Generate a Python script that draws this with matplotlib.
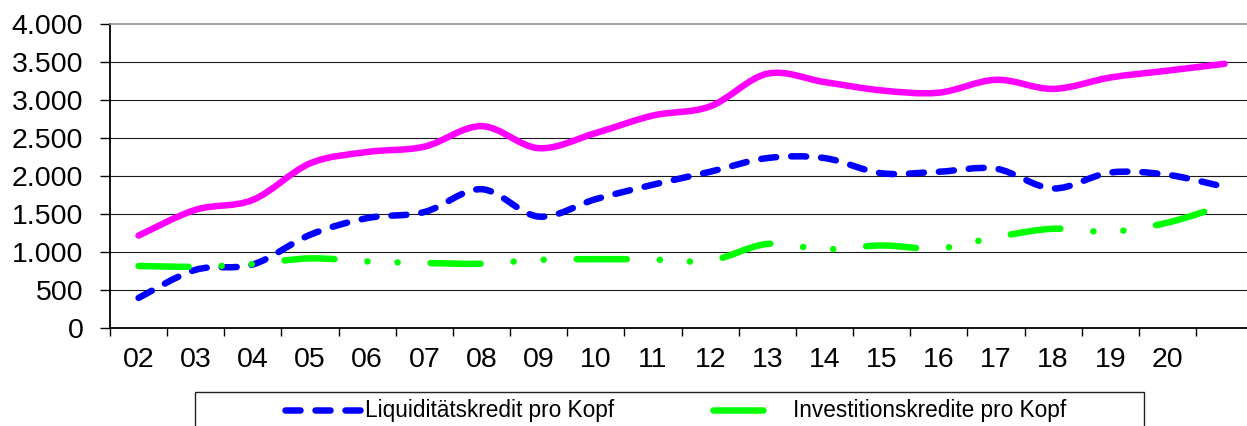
import numpy as np
import matplotlib
matplotlib.use('Agg')
import matplotlib.pyplot as plt
from matplotlib.path import Path
from matplotlib.patches import PathPatch, Rectangle
from matplotlib.lines import Line2D

plt.rcParams['font.family'] = ['Liberation Sans', 'DejaVu Sans']
plt.rcParams['lines.scale_dashes'] = False

years = ['02', '03', '04', '05', '06', '07', '08', '09', '10', '11',
         '12', '13', '14', '15', '16', '17', '18', '19', '20', '']

liquiditaet = [400, 770, 840, 1230, 1450, 1530, 1830, 1470, 1700, 1890,
               2060, 2240, 2240, 2040, 2060, 2100, 1840, 2050, 2020, 1860]
investition = [820, 810, 845, 920, 880, 860, 850, 900, 910, 905,
               890, 1110, 1040, 1090, 1050, 1200, 1310, 1270, 1390, 1620]
gesamt = [1220, 1560, 1690, 2170, 2320, 2390, 2660, 2370, 2570, 2800,
          2920, 3350, 3240, 3130, 3100, 3270, 3150, 3300, 3390, 3480]

y_ticks = [0, 500, 1000, 1500, 2000, 2500, 3000, 3500, 4000]
y_labels = ['0', '500', '1.000', '1.500', '2.000', '2.500', '3.000', '3.500', '4.000']

W, H = 1247, 426
PX = 72 / 100  # pt per pixel at dpi 100


def smooth_path(xs, ys):
    # Catmull-Rom style bezier, like the "smoothed line" option in Excel
    pts = np.column_stack([xs, ys]).astype(float)
    ext = np.vstack([pts[0], pts, pts[-1]])
    verts = [pts[0]]
    codes = [Path.MOVETO]
    for i in range(len(pts) - 1):
        p0, p1, p2, p3 = ext[i], ext[i + 1], ext[i + 2], ext[i + 3]
        verts += [p1 + (p2 - p0) / 6, p2 - (p3 - p1) / 6, p2]
        codes += [Path.CURVE4] * 3
    return Path(verts, codes)


def add_series(ax, values, color, dashes):
    x = np.arange(len(values))
    ls = 'solid' if dashes is None else (0, dashes)
    patch = PathPatch(smooth_path(x, values), fill=False, edgecolor=color,
                      lw=6.5 * PX, linestyle=ls, capstyle='round',
                      joinstyle='round', zorder=3)
    ax.add_patch(patch)
    return Line2D([], [], color=color, lw=6.5 * PX,
                  linestyle=ls, dash_capstyle='round', solid_capstyle='round')


fig = plt.figure(figsize=(W / 100, H / 100), dpi=100)
ax = fig.add_axes([110 / W, 1 - 328.3 / H, (W - 110) / W, 304 / H])

blue_dash = (15 * PX, 15 * PX)
green_dash = (50 * PX, 33 * PX, 0.1, 30 * PX, 0.1, 33 * PX)

h_blue = add_series(ax, liquiditaet, '#0000ff', blue_dash)
h_green = add_series(ax, investition, '#00ff00', green_dash)
add_series(ax, gesamt, '#ff00ff', None)

ax.set_xlim(-0.5, -0.5 + (W - 110) / 57.16)
ax.set_ylim(0, 4000)

for v in y_ticks[1:-1]:
    ax.axhline(v, color='#1a1a1a', lw=0.8, zorder=1)

ax.set_yticks(y_ticks)
ax.set_yticklabels(y_labels, fontsize=20.5)
ax.tick_params(axis='y', length=10 * PX, width=1, pad=12, color='black')

ax.set_xticks(np.arange(len(years)))
ax.set_xticklabels(years, fontsize=20.5)
ax.set_xticks(np.arange(len(years)) - 0.5, minor=True)
ax.tick_params(axis='x', which='major', length=0, pad=13.5)
ax.tick_params(axis='x', which='minor', length=8 * PX, width=1, color='black')

ax.spines['right'].set_visible(False)
ax.spines['top'].set_color('#8c8c8c')
ax.spines['top'].set_linewidth(1.2)
ax.spines['left'].set_linewidth(1.3)
ax.spines['bottom'].set_linewidth(1.3)

# legend frame runs off the bottom of the picture
fig.patches.append(Rectangle((195 / W, -0.1), (1144 - 195) / W, 0.1 + 1 - 392 / H,
                             transform=fig.transFigure, fill=False,
                             edgecolor='#222222', lw=1.0))
fig.legend([h_blue, h_green],
           ['Liquiditätskredit pro Kopf', 'Investitionskredite pro Kopf'],
           loc='center left', bbox_to_anchor=(274 / W, 1 - 411 / H),
           ncol=2, frameon=False, fontsize=16.3, borderpad=0,
           handlelength=3.3, handletextpad=0.2, columnspacing=4.4)

plt.savefig('out.png', dpi=100)
